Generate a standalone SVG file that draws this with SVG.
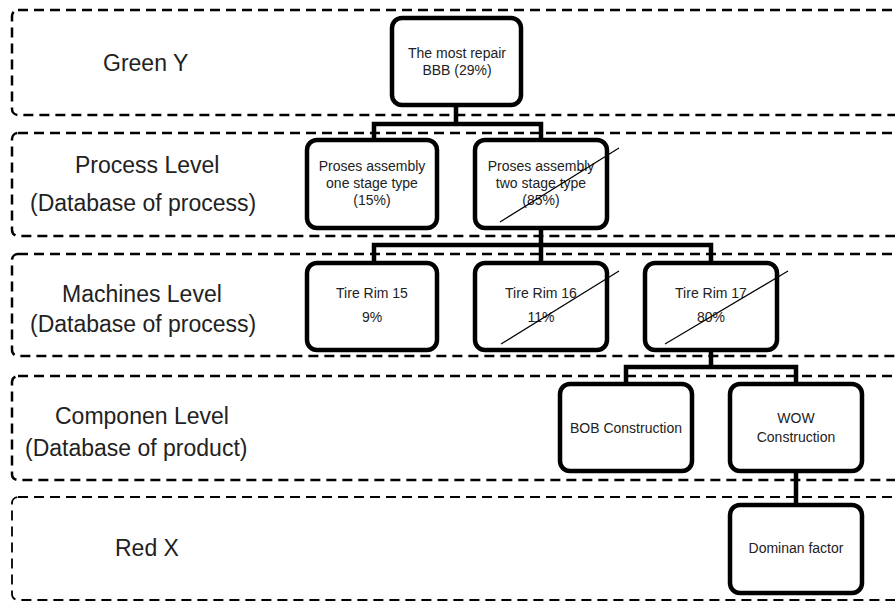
<svg xmlns="http://www.w3.org/2000/svg" width="895" height="601" viewBox="0 0 895 601">
<style>
.band{fill:none;stroke:#000;stroke-width:2.5;stroke-dasharray:10 6}
.node{fill:#fff;stroke:#000;stroke-width:4.5}
.conn{fill:none;stroke:#000;stroke-width:4.5;stroke-linejoin:miter}
.strike{stroke:#000;stroke-width:1.2}
.lbl{font-family:"Liberation Sans",Arial,sans-serif;font-size:23px;fill:#222}
.nt{font-family:"Liberation Sans",Arial,sans-serif;font-size:14px;fill:#222;text-anchor:middle}
</style>
<rect width="895" height="601" fill="#fff"/>
<g id="bands">
<rect class="band" x="12" y="10" width="900" height="105" rx="6"/>
<rect class="band" x="12" y="133" width="900" height="103" rx="6"/>
<rect class="band" x="12" y="254" width="900" height="102" rx="6"/>
<rect class="band" x="12" y="376" width="900" height="104" rx="6"/>
<rect class="band" x="12" y="497" width="900" height="103" rx="6" style="stroke-width:1.8"/>
</g>
<g id="labels">
<text class="lbl" x="103" y="71">Green Y</text>
<text class="lbl" x="75" y="173">Process Level</text>
<text class="lbl" x="30" y="211">(Database of process)</text>
<text class="lbl" x="62" y="302">Machines Level</text>
<text class="lbl" x="30" y="332">(Database of process)</text>
<text class="lbl" x="55" y="424">Componen Level</text>
<text class="lbl" x="25" y="456">(Database of product)</text>
<text class="lbl" x="115" y="556">Red X</text>
</g>
<g id="connectors">
<path class="conn" d="M456 105 V124 M374 142 V124 H541 V142"/>
<path class="conn" d="M541 228 V245 M374 265 V245 H711 V265 M541 245 V265"/>
<path class="conn" d="M711 350 V367 M626 386 V367 H796 V386"/>
<path class="conn" d="M796 471 V507"/>
</g>
<g id="n-top">
<rect class="node" x="392" y="18" width="129" height="87" rx="10"/>
<text class="nt" x="457" y="58">The most repair</text>
<text class="nt" x="457" y="75">BBB  (29%)</text>
</g>
<g id="n-one-stage">
<rect class="node" x="307" y="140" width="130" height="88" rx="10"/>
<text class="nt" x="372" y="171">Proses assembly</text>
<text class="nt" x="372" y="188">one stage type</text>
<text class="nt" x="372" y="205">(15%)</text>
</g>
<g id="n-two-stage">
<rect class="node" x="475" y="140" width="132" height="88" rx="10"/>
<text class="nt" x="541" y="171">Proses assembly</text>
<text class="nt" x="541" y="188">two stage type</text>
<text class="nt" x="541" y="205">(85%)</text>
<line class="strike" x1="500" y1="222" x2="619" y2="148"/>
</g>
<g id="n-rim15">
<rect class="node" x="307" y="263" width="130" height="87" rx="10"/>
<text class="nt" x="372" y="298">Tire Rim 15</text>
<text class="nt" x="372" y="322">9%</text>
</g>
<g id="n-rim16">
<rect class="node" x="475" y="263" width="132" height="87" rx="10"/>
<text class="nt" x="541" y="298">Tire Rim 16</text>
<text class="nt" x="541" y="322">11%</text>
<line class="strike" x1="501" y1="344" x2="619" y2="271"/>
</g>
<g id="n-rim17">
<rect class="node" x="645" y="263" width="132" height="87" rx="10"/>
<text class="nt" x="711" y="298">Tire Rim 17</text>
<text class="nt" x="711" y="322">80%</text>
<line class="strike" x1="665" y1="344" x2="788" y2="271"/>
</g>
<g id="n-bob">
<rect class="node" x="560" y="384" width="132" height="87" rx="10"/>
<text class="nt" x="626" y="433">BOB Construction</text>
</g>
<g id="n-wow">
<rect class="node" x="730" y="384" width="132" height="87" rx="10"/>
<text class="nt" x="796" y="423">WOW</text>
<text class="nt" x="796" y="442">Construction</text>
</g>
<g id="n-dominan">
<rect class="node" x="730" y="505" width="132" height="88" rx="10"/>
<text class="nt" x="796" y="553">Dominan factor</text>
</g>
</svg>
